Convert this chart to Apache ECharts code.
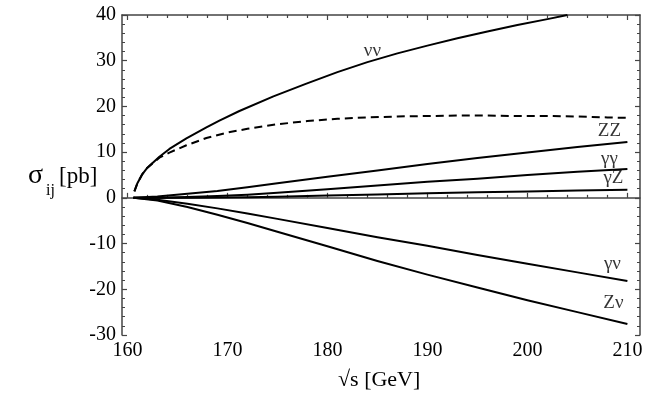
<!DOCTYPE html>
<html>
<head>
<meta charset="utf-8">
<script src="https://cdn.jsdelivr.net/npm/echarts@6/dist/echarts.min.js"></script>
<style>
  html, body { margin: 0; padding: 0; background: #fff; }
  #chart { width: 670px; height: 395px; }
</style>
</head>
<body>
<div id="chart"></div>
<script>
// sqrt(s) in GeV and cross sections in pb
const nnS = [160.7, 161.0, 161.5, 162.0, 163.2, 164.2, 165.9, 167.9, 169.2, 171.2, 174.6, 177.9, 181, 184, 187, 190, 193, 196, 199, 202, 204];
const nnV = [1.4, 3.2, 5.2, 6.6, 9.0, 10.7, 13.0, 15.4, 16.9, 19.0, 22.2, 25.0, 27.5, 29.7, 31.6, 33.3, 34.9, 36.4, 37.8, 39.1, 40.0];

const totS = [160.7, 161.0, 161.5, 162.0, 163.2, 164.2, 165.9, 167.9, 170, 172, 175, 178, 181, 184, 187, 190, 193, 196, 199, 202, 205, 208, 210];
const totV = [1.4, 3.2, 5.2, 6.6, 8.8, 9.9, 11.5, 13.1, 14.3, 15.1, 16.1, 16.8, 17.3, 17.6, 17.8, 17.9, 18.0, 18.0, 17.9, 17.9, 17.8, 17.6, 17.5];

const sGrid = [160.6, 163, 166, 169, 172, 175, 180, 185, 190, 195, 200, 205, 210];
const zzV = [0, 0.3, 0.9, 1.5, 2.3, 3.2, 4.6, 6.0, 7.4, 8.7, 9.9, 11.1, 12.2];
const ggV = [0, 0.05, 0.2, 0.4, 0.7, 1.1, 1.9, 2.7, 3.5, 4.2, 5.0, 5.7, 6.3];
const gzV = [0, 0, 0.05, 0.1, 0.15, 0.25, 0.5, 0.75, 1.0, 1.2, 1.4, 1.6, 1.75];
const gnV = [0, -0.4, -1.3, -2.3, -3.4, -4.6, -6.6, -8.6, -10.5, -12.5, -14.4, -16.3, -18.2];
const znV = [0, -0.6, -2.0, -3.7, -5.5, -7.4, -10.6, -13.8, -16.8, -19.6, -22.4, -25.0, -27.6];

const curveNames = ['νν', 'ZZ', 'γγ', 'γZ', 'γν', 'Zν'];
const labelS = [184.5, 208.2, 208.2, 208.6, 208.5, 208.6];
const labelV = [32.2, 14.6, 8.6, 4.3, -14.4, -23.0];

const xTicks = [160, 170, 180, 190, 200, 210];
const xMinor = [162, 164, 166, 168, 172, 174, 176, 178, 182, 184, 186, 188, 192, 194, 196, 198, 202, 204, 206, 208];

const zip = (xs, ys) => xs.map((x, i) => [x, ys[i]]);

const chart = echarts.init(document.getElementById('chart'));

const font = 'Liberation Serif, Times New Roman, serif';
const frame = '#444';
const xMin = 159.46, xMax = 211.26;

function xAxisDef(pos, ticks, len, withLine, withLabel) {
  return {
    type: 'value', min: xMin, max: xMax, position: pos,
    axisLine: { show: withLine, lineStyle: { color: frame, width: 1.5 } },
    axisTick: { show: true, inside: true, length: len, customValues: ticks, lineStyle: { color: frame, width: 1.2 } },
    axisLabel: withLabel ? { show: true, customValues: ticks, color: '#000', fontFamily: font, fontSize: 20, margin: 6 } : { show: false },
    splitLine: { show: false }
  };
}

function yAxisDef(pos, withLabel) {
  return {
    type: 'value', min: -30, max: 40, interval: 10, position: pos,
    axisLine: { show: true, lineStyle: { color: frame, width: 1.5 } },
    axisTick: { show: true, inside: true, length: 5, lineStyle: { color: frame, width: 1.2 } },
    minorTick: { show: true, splitNumber: 5, length: 3, lineStyle: { color: frame, width: 1 } },
    axisLabel: withLabel ? { show: true, color: '#000', fontFamily: font, fontSize: 20, margin: 6 } : { show: false },
    splitLine: { show: false }
  };
}

function curve(data, dashed) {
  return {
    type: 'line', data: data, showSymbol: false, smooth: false,
    lineStyle: { color: '#000', width: 2, type: dashed ? [8, 5] : 'solid', join: 'round' },
    silent: true
  };
}

const option = {
  animation: false,
  grid: { left: 122, right: 30, top: 15, bottom: 60, outerBoundsMode: 'none' },
  xAxis: [
    xAxisDef('bottom', xTicks, 5, true, true),
    xAxisDef('bottom', xMinor, 3, false, false),
    xAxisDef('top', xTicks, 5, true, false),
    xAxisDef('top', xMinor, 3, false, false)
  ],
  yAxis: [yAxisDef('left', true), yAxisDef('right', false)],
  series: [
    curve(zip(nnS, nnV), false),
    curve(zip(totS, totV), true),
    curve(zip(sGrid, zzV), false),
    curve(zip(sGrid, ggV), false),
    curve(zip(sGrid, gzV), false),
    curve(zip(sGrid, gnV), false),
    curve(zip(sGrid, znV), false),
    {
      type: 'scatter', symbolSize: 0, silent: true,
      data: curveNames.map((n, i) => ({ value: [labelS[i], labelV[i]], name: n })),
      label: {
        show: true, position: 'inside', formatter: p => p.name,
        color: '#000', fontFamily: font, fontSize: 19
      }
    }
  ],
  graphic: [
    { type: 'text', left: 28, top: 162, style: { text: 'σ', font: '28px ' + font, fill: '#000' } },
    { type: 'text', left: 46, top: 183, style: { text: 'ij', font: '16px ' + font, fill: '#000' } },
    { type: 'text', left: 59, top: 165, style: { text: '[pb]', font: '23px ' + font, fill: '#000' } },
    { type: 'text', left: 338, top: 369, style: { text: '√s [GeV]', font: '22px ' + font, fill: '#000' } }
  ]
};

chart.setOption(option);
</script>
</body>
</html>
